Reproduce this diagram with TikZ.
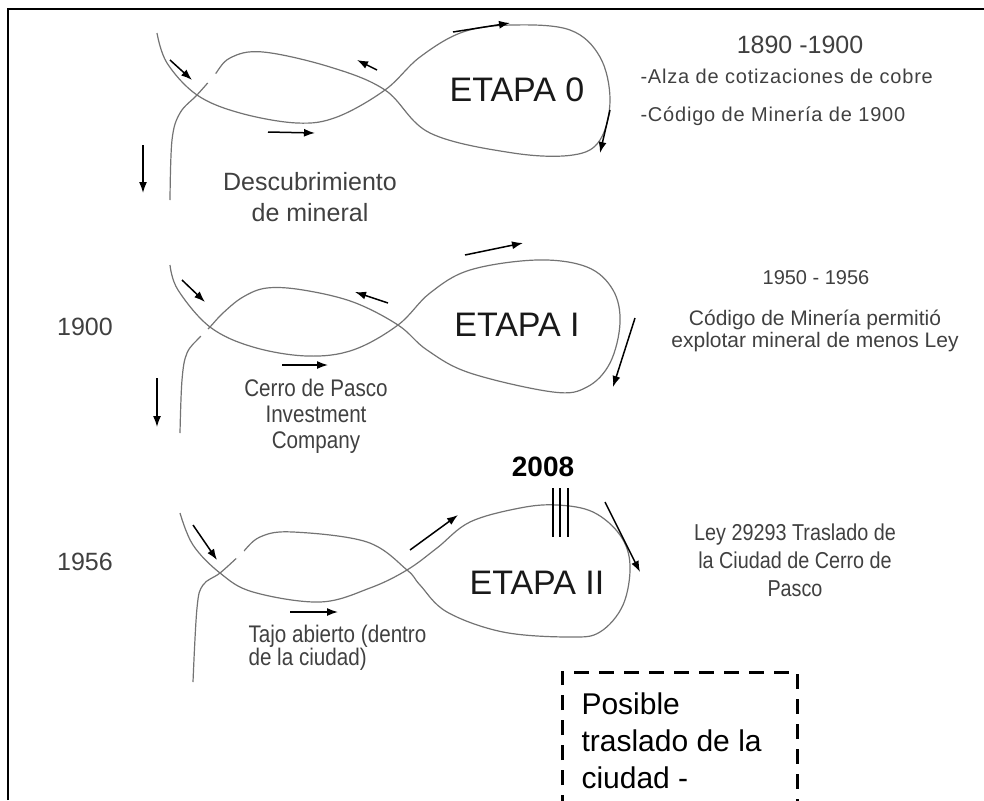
\documentclass[tikz,border=0pt]{standalone}
\usepackage{fontspec}
\setmainfont{Liberation Sans}
\newfontfamily\narrowsans[FakeStretch=0.86]{Liberation Sans}
\newfontfamily\widesans[LetterSpace=4]{Liberation Sans}
\usetikzlibrary{arrows.meta, positioning}

\begin{document}
\begin{tikzpicture}[x=1pt, y=-1pt,
  eight/.style={draw=black!55, line width=1.2pt},
  arr/.style={-{Latex[length=11pt,width=8pt]}, line width=1.5pt},
  gap/.style={draw=white, line width=3pt},
  etapa/.style={font=\fontsize{34}{40}\selectfont, text=black!90},
  yr/.style={font=\fontsize{25}{30}\selectfont, text=black!75},
  note/.style={font=\fontsize{21}{22}\selectfont, text=black!75, align=center},
  wide/.style={font=\widesans\fontsize{20}{22}\selectfont, text=black!75},
  narrow/.style={font=\narrowsans\fontsize{24}{26}\selectfont, text=black!75}
]
\useasboundingbox (0,0) rectangle (984,800);
\draw[line width=2.5pt] (8,800) -- (8,9) -- (984,9);

% etapa 0
\draw[eight] plot[smooth, tension=0.6] coordinates {(157,33) (167,63) (197,95) (240,113) (297,123) (337,117) (385,90) (420,57) (463,32) (513,25) (570,30) (600,57) (610,100) (600,140) (573,155) (513,153) (430,133) (385,90) (330,67) (263,52) (230,58) (213,77) (197,95) (180,113) (172,140) (170,200)};
\draw[gap] (208,83) -- (216,74);
\draw[arr] (170,60) -- (192,80);
\draw[arr] (377,70) -- (357,60);
\draw[arr] (268,132) -- (315,133);
\draw[arr] (453,32) -- (510,23);
\draw[arr] (610,110) -- (600,153);
\draw[arr] (143,145) -- (143,193);
\node[etapa] (et0) at (517,90) {ETAPA 0};
\node[yr, align=center, font=\fontsize{25}{31}\selectfont] (desc) at (310,197) {Descubrimiento\\de mineral};
\node[yr] (p0) at (800,45) {1890 -1900};
\node[wide, anchor=west] (alza) at (637,76) {-Alza de cotizaciones de cobre};
\node[wide, anchor=west] (cod0) at (637,116) {-Código de Minería de 1900};

% etapa I
\draw[eight] plot[smooth, tension=0.6] coordinates {(170,265) (178,290) (210,327) (253,347) (307,356) (353,350) (398,325) (430,293) (470,270) (537,260) (587,267) (613,290) (620,323) (610,363) (587,387) (553,392) (470,373) (427,350) (398,325) (353,302) (303,290) (267,288) (243,297) (223,313) (210,327) (200,337) (187,353) (182,380) (180,433)};
\draw[gap] (208,329) -- (201,336);
\draw[arr] (182,280) -- (205,302);
\draw[arr] (388,303) -- (355,292);
\draw[arr] (282,365) -- (328,365);
\draw[arr] (465,255) -- (523,243);
\draw[arr] (635,318) -- (613,387);
\draw[arr] (157,378) -- (157,427);
\node[etapa] (et1) at (517,325) {ETAPA I};
\node[yr] (y1900) at (85,327) {1900};
\node[narrow, align=center] (cerro) at (316,416) {Cerro de Pasco\\Investment\\Company};
\node[yr, font=\fontsize{20}{24}\selectfont] (p1) at (816,278) {1950 - 1956};
\node[note] (cod1) at (815,331) {Código de Minería permitió\\explotar mineral de menos Ley};

% etapa II
\draw[eight] plot[smooth, tension=0.6] coordinates {(180,513) (193,545) (220,573) (253,592) (320,602) (370,588) (407,570) (437,548) (470,522) (520,508) (557,505) (593,512) (620,535) (630,565) (623,605) (600,632) (570,637) (503,632) (447,612) (420,585) (407,570) (367,542) (293,532) (260,537) (240,555) (220,573) (203,585) (197,608) (193,682)};
\draw[gap] (236,558) -- (244,551);
\draw[arr] (193,525) -- (217,560);
\draw[arr] (290,612) -- (338,612);
\draw[arr] (410,550) -- (458,515);
\draw[arr] (605,502) -- (640,572);
\foreach \x in {553,560,568}
  \draw[line width=1.5pt] (\x,488) -- (\x,537);
\node[font=\bfseries\fontsize{28}{32}\selectfont] (y2008) at (543,467) {2008};
\node[etapa] (et2) at (537,583) {ETAPA II};
\node[yr] (y1956) at (85,562) {1956};
\node[narrow, align=left, anchor=west, font=\narrowsans\fontsize{24}{23}\selectfont] (tajo) at (245,648) {Tajo abierto (dentro\\de la ciudad)};
\node[narrow, align=center, font=\narrowsans\fontsize{23}{28}\selectfont] (ley) at (795,560) {Ley 29293 Traslado de\\la Ciudad de Cerro de\\Pasco};

% posible traslado
\draw[dashed, dash pattern=on 15pt off 10pt, line width=3pt] (562,810) |- (797,672) -- (797,810);
\node[anchor=west, align=left, font=\fontsize{30}{37}\selectfont] (pos) at (578,741) {Posible\\traslado de la\\ciudad -};
\end{tikzpicture}
\end{document}
